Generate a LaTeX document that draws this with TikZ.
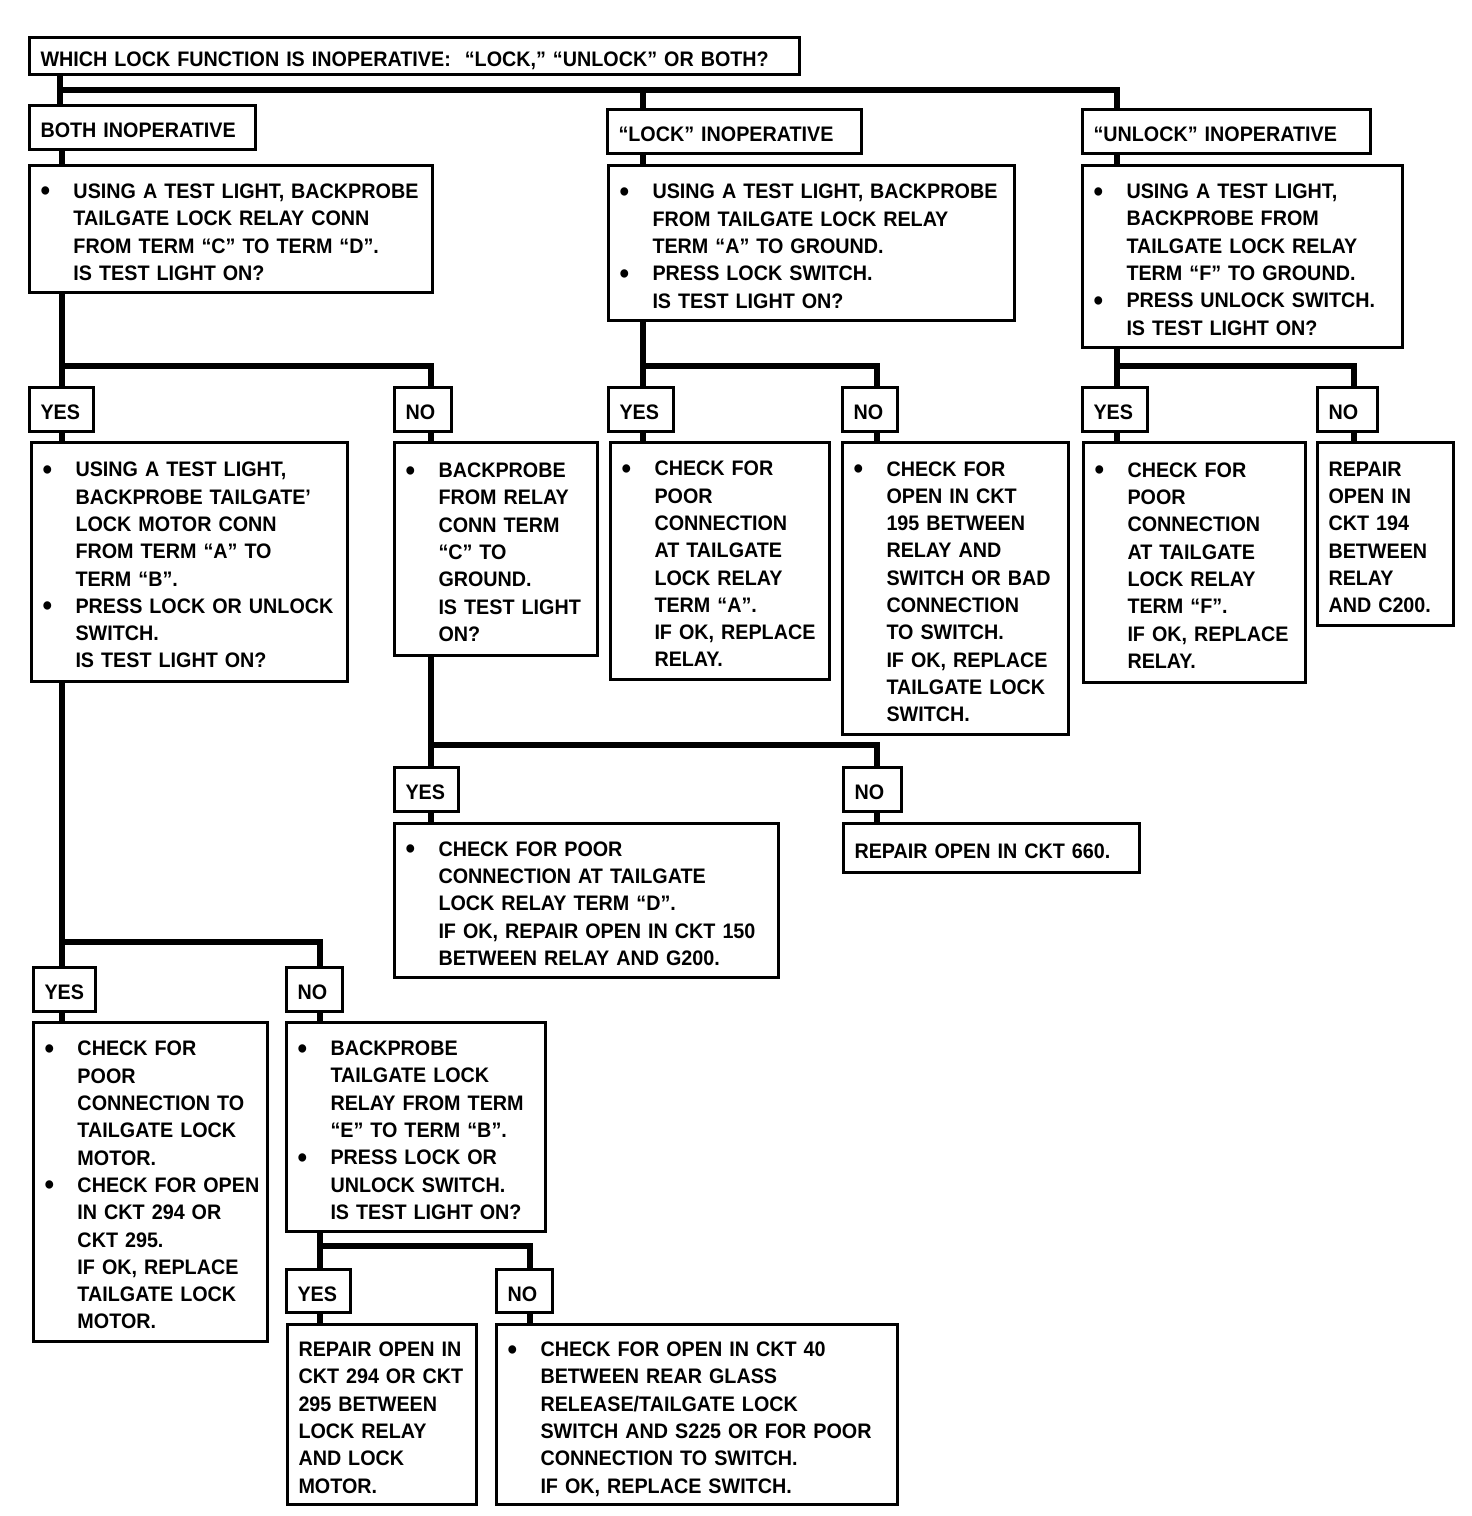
\documentclass[tikz,border=0pt]{standalone}
\usepackage{fontspec}
\setmainfont{Liberation Sans}[FakeStretch=0.94]
\usetikzlibrary{positioning}
% bullet column and text rows of the check boxes
\newcommand{\bulitem}{\makebox[33pt][l]{\raisebox{-2.5pt}{\fontsize{29}{27.3}\selectfont\textbullet}}}
\newcommand{\bulgap}{\hspace*{33pt}}
\newcommand{\boxlines}[1]{\begin{tabular}{@{}l@{}}\rule{0pt}{29pt}#1\end{tabular}}

\begin{document}
\begin{tikzpicture}[
  x=1pt, y=-1pt,
  box/.style={
    draw,
    line width=3pt,
    anchor=north west,
    align=left,
    inner xsep=11pt,
    inner ysep=0pt,
    font=\fontsize{21}{27.3}\selectfont\bfseries
  },
  sz/.code 2 args={%
    \pgfmathsetlengthmacro\boxtw{#1-22}%
    \tikzset{minimum width=#1pt, minimum height=#2pt, text width=\boxtw}%
  },
  wire/.style={line width=6.5pt}
]
\path[fill=white] (0,0) rectangle (1472,1516);

% question and the three cases
\node[box, sz={770}{37}] (ask) at (28,36) {\boxlines{WHICH LOCK FUNCTION IS INOPERATIVE:\ \ “LOCK,” “UNLOCK” OR BOTH?}};
\node[box, sz={226}{44}] (both) at (28,104) {\boxlines{BOTH INOPERATIVE}};
\node[box, sz={254}{44}] (lockop) at (606,108) {\boxlines{“LOCK” INOPERATIVE}};
\node[box, sz={288}{44}] (unlockop) at (1081,108) {\boxlines{“UNLOCK” INOPERATIVE}};

\node[box, sz={403}{127}] (bothq) at (28,164) {\boxlines{\bulitem USING A TEST LIGHT, BACKPROBE\\
  \bulgap TAILGATE LOCK RELAY CONN\\ \bulgap FROM TERM “C” TO TERM “D”.\\ \bulgap IS TEST LIGHT ON?}};
\node[box, sz={406}{155}] (lockq) at (607,164) {\boxlines{\bulitem USING A TEST LIGHT, BACKPROBE\\
  \bulgap FROM TAILGATE LOCK RELAY\\ \bulgap TERM “A” TO GROUND.\\ \bulitem PRESS LOCK SWITCH.\\
  \bulgap IS TEST LIGHT ON?}};
\node[box, sz={320}{182}] (unlockq) at (1081,164) {\boxlines{\bulitem USING A TEST LIGHT,\\
  \bulgap BACKPROBE FROM\\ \bulgap TAILGATE LOCK RELAY\\ \bulgap TERM “F” TO GROUND.\\
  \bulitem PRESS UNLOCK SWITCH.\\ \bulgap IS TEST LIGHT ON?}};

% first answers
\node[box, sz={64}{44}] (yes1) at (28,386) {\boxlines{YES}};
\node[box, sz={57}{44}] (no1) at (393,386) {\boxlines{NO}};
\node[box, sz={65}{44}] (yes2) at (607,386) {\boxlines{YES}};
\node[box, sz={55}{44}] (no2) at (841,386) {\boxlines{NO}};
\node[box, sz={65}{44}] (yes3) at (1081,386) {\boxlines{YES}};
\node[box, sz={60}{44}] (no3) at (1316,386) {\boxlines{NO}};

\node[box, sz={316}{239}] (motorq) at (30,441) {\boxlines{\bulitem USING A TEST LIGHT,\\
  \bulgap BACKPROBE TAILGATE’\\ \bulgap LOCK MOTOR CONN\\ \bulgap FROM TERM “A” TO\\
  \bulgap TERM “B”.\\ \bulitem PRESS LOCK OR UNLOCK\\ \bulgap SWITCH.\\ \bulgap IS TEST LIGHT ON?}};
\node[box, sz={203}{213}] (relayq) at (393,441) {\boxlines{\bulitem BACKPROBE\\
  \bulgap FROM RELAY\\ \bulgap CONN TERM\\ \bulgap “C” TO\\ \bulgap GROUND.\\
  \bulgap IS TEST LIGHT\\ \bulgap ON?}};
\node[box, sz={219}{237}] (lockyes) at (609,441) {\boxlines{\bulitem CHECK FOR\\
  \bulgap POOR\\ \bulgap CONNECTION\\ \bulgap AT TAILGATE\\ \bulgap LOCK RELAY\\
  \bulgap TERM “A”.\\ \bulgap IF OK, REPLACE\\ \bulgap RELAY.}};
\node[box, sz={226}{292}] (lockno) at (841,441) {\boxlines{\bulitem CHECK FOR\\
  \bulgap OPEN IN CKT\\ \bulgap 195 BETWEEN\\ \bulgap RELAY AND\\ \bulgap SWITCH OR BAD\\
  \bulgap CONNECTION\\ \bulgap TO SWITCH.\\ \bulgap IF OK, REPLACE\\ \bulgap TAILGATE LOCK\\
  \bulgap SWITCH.}};
\node[box, sz={222}{240}] (unlockyes) at (1082,441) {\boxlines{\bulitem CHECK FOR\\
  \bulgap POOR\\ \bulgap CONNECTION\\ \bulgap AT TAILGATE\\ \bulgap LOCK RELAY\\
  \bulgap TERM “F”.\\ \bulgap IF OK, REPLACE\\ \bulgap RELAY.}};
\node[box, sz={136}{183}] (unlockno) at (1316,441) {\boxlines{REPAIR\\ OPEN IN\\ CKT 194\\
  BETWEEN\\ RELAY\\ AND C200.}};

% relay ground check
\node[box, sz={64}{44}] (yes4) at (393,766) {\boxlines{YES}};
\node[box, sz={58}{44}] (no4) at (842,766) {\boxlines{NO}};
\node[box, sz={384}{154}] (poord) at (393,822) {\boxlines{\bulitem CHECK FOR POOR\\
  \bulgap CONNECTION AT TAILGATE\\ \bulgap LOCK RELAY TERM “D”.\\
  \bulgap IF OK, REPAIR OPEN IN CKT 150\\ \bulgap BETWEEN RELAY AND G200.}};
\node[box, sz={296}{49}] (ckt660) at (842,822) {\boxlines{REPAIR OPEN IN CKT 660.}};

% motor check
\node[box, sz={62}{44}] (yes5) at (32,966) {\boxlines{YES}};
\node[box, sz={56}{44}] (no5) at (285,966) {\boxlines{NO}};
\node[box, sz={234}{319}] (motorchk) at (32,1021) {\boxlines{\bulitem CHECK FOR\\
  \bulgap POOR\\ \bulgap CONNECTION TO\\ \bulgap TAILGATE LOCK\\ \bulgap MOTOR.\\
  \bulitem CHECK FOR OPEN\\ \bulgap IN CKT 294 OR\\ \bulgap CKT 295.\\ \bulgap IF OK, REPLACE\\
  \bulgap TAILGATE LOCK\\ \bulgap MOTOR.}};
\node[box, sz={259}{209}] (relayeb) at (285,1021) {\boxlines{\bulitem BACKPROBE\\
  \bulgap TAILGATE LOCK\\ \bulgap RELAY FROM TERM\\ \bulgap “E” TO TERM “B”.\\
  \bulitem PRESS LOCK OR\\ \bulgap UNLOCK SWITCH.\\ \bulgap IS TEST LIGHT ON?}};

% relay E to B check
\node[box, sz={64}{43}] (yes6) at (285,1268) {\boxlines{YES}};
\node[box, sz={56}{43}] (no6) at (495,1268) {\boxlines{NO}};
\node[box, sz={189}{180}] (ckt294) at (286,1323) {\boxlines{REPAIR OPEN IN\\
  CKT 294 OR CKT\\ 295 BETWEEN\\ LOCK RELAY\\ AND LOCK\\ MOTOR.}};
\node[box, sz={401}{180}] (ckt40) at (495,1323) {\boxlines{\bulitem CHECK FOR OPEN IN CKT 40\\
  \bulgap BETWEEN REAR GLASS\\ \bulgap RELEASE/TAILGATE LOCK\\
  \bulgap SWITCH AND S225 OR FOR POOR\\ \bulgap CONNECTION TO SWITCH.\\
  \bulgap IF OK, REPLACE SWITCH.}};

% forks
\coordinate (bus) at ([xshift=32pt,yshift=14pt]both.north west);
\coordinate (fork1) at ([xshift=34pt,yshift=20pt]yes1.north west);
\coordinate (fork2) at ([xshift=36pt,yshift=20pt]yes2.north west);
\coordinate (fork3) at ([xshift=36pt,yshift=20pt]yes3.north west);
\coordinate (fork4) at ([xshift=38pt,yshift=21pt]yes4.north west);
\coordinate (fork5) at ([xshift=30pt,yshift=24pt]yes5.north west);
\coordinate (fork6) at ([xshift=35pt,yshift=22pt]yes6.north west);

% connectors
\draw[wire] ([xshift=32pt]ask.south west) -- ([xshift=32pt]both.north west);
\draw[wire] (bus) -| ([xshift=36pt]unlockop.north west);
\draw[wire] ([xshift=37pt]lockop.north west) |- (bus);
\draw[wire] ([xshift=34pt]both.south west) -- ([xshift=34pt]bothq.north west);
\draw[wire] ([xshift=37pt]lockop.south west) -- ([xshift=36pt]lockq.north west);
\draw[wire] ([xshift=36pt]unlockop.south west) -- ([xshift=36pt]unlockq.north west);

\draw[wire] ([xshift=34pt]bothq.south west) -- ([xshift=34pt]yes1.north west);
\draw[wire] (fork1) -| ([xshift=38pt]no1.north west);
\draw[wire] ([xshift=36pt]lockq.south west) -- ([xshift=36pt]yes2.north west);
\draw[wire] (fork2) -| ([xshift=36pt]no2.north west);
\draw[wire] ([xshift=36pt]unlockq.south west) -- ([xshift=36pt]yes3.north west);
\draw[wire] (fork3) -| ([xshift=38pt]no3.north west);

\draw[wire] ([xshift=34pt]yes1.south west) -- ([xshift=32pt]motorq.north west);
\draw[wire] ([xshift=38pt]no1.south west) -- ([xshift=38pt]relayq.north west);
\draw[wire] ([xshift=36pt]yes2.south west) -- ([xshift=34pt]lockyes.north west);
\draw[wire] ([xshift=36pt]no2.south west) -- ([xshift=36pt]lockno.north west);
\draw[wire] ([xshift=36pt]yes3.south west) -- ([xshift=35pt]unlockyes.north west);
\draw[wire] ([xshift=38pt]no3.south west) -- ([xshift=38pt]unlockno.north west);

\draw[wire] ([xshift=38pt]relayq.south west) -- ([xshift=38pt]yes4.north west);
\draw[wire] (fork4) -| ([xshift=35pt]no4.north west);
\draw[wire] ([xshift=38pt]yes4.south west) -- ([xshift=38pt]poord.north west);
\draw[wire] ([xshift=35pt]no4.south west) -- ([xshift=35pt]ckt660.north west);

\draw[wire] ([xshift=32pt]motorq.south west) -- ([xshift=30pt]yes5.north west);
\draw[wire] (fork5) -| ([xshift=35pt]no5.north west);
\draw[wire] ([xshift=30pt]yes5.south west) -- ([xshift=30pt]motorchk.north west);
\draw[wire] ([xshift=35pt]no5.south west) -- ([xshift=35pt]relayeb.north west);

\draw[wire] ([xshift=35pt]relayeb.south west) -- ([xshift=35pt]yes6.north west);
\draw[wire] (fork6) -| ([xshift=35pt]no6.north west);
\draw[wire] ([xshift=35pt]yes6.south west) -- ([xshift=34pt]ckt294.north west);
\draw[wire] ([xshift=35pt]no6.south west) -- ([xshift=35pt]ckt40.north west);

\end{tikzpicture}
\end{document}
